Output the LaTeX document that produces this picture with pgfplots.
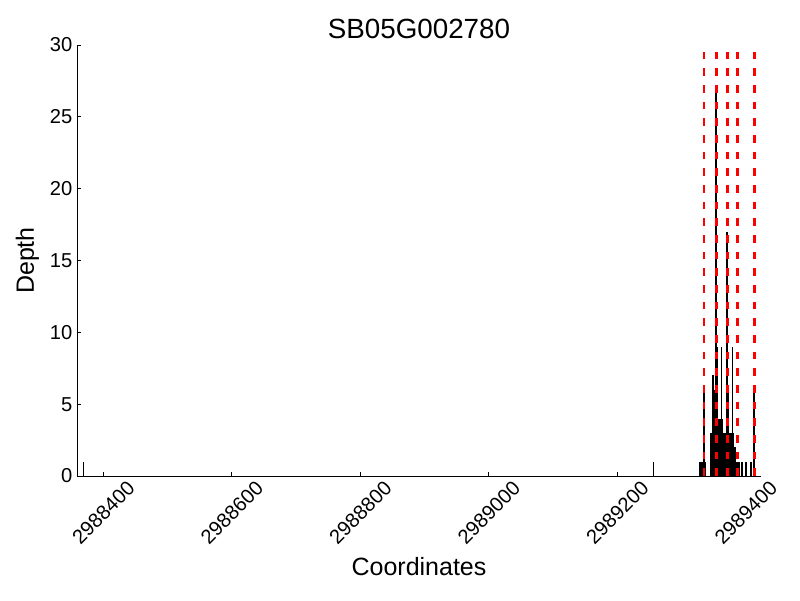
\documentclass[border=0pt]{standalone}
\usepackage{fontspec}
\setmainfont{Liberation Sans}
\usepackage{pgfplots}
\pgfplotsset{compat=1.18}

% depth per coordinate
\pgfplotstableread{
x depth
2988369 1
2989256 1
2989329 1
2989330 1
2989331 1
2989332 1
2989333 1
2989334 1
2989335 6
2989336 1
2989346 3
2989347 3
2989349 7
2989350 6
2989351 5
2989352 4
2989353 4
2989354 27
2989355 4
2989356 9
2989357 4
2989358 4
2989359 4
2989360 3
2989361 4
2989362 9
2989363 4
2989364 3
2989365 2
2989366 2
2989367 1
2989368 3
2989369 3
2989370 4
2989371 17
2989372 6
2989373 5
2989374 3
2989375 3
2989376 3
2989377 3
2989378 3
2989379 9
2989380 3
2989381 3
2989382 2
2989383 2
2989384 2
2989385 1
2989386 1
2989387 1
2989389 1
2989393 1
2989394 1
2989400 1
2989407 1
2989408 1
2989413 6
}\depthtable

\begin{document}
\begin{tikzpicture}
\path[use as bounding box] (-55.66pt,-89.28pt) rectangle (520.34pt,342.72pt);
\begin{axis}[
  at={(0,0)}, anchor=south west,
  scale only axis,
  width=492pt, height=310.3pt,
  xmin=2988359.5, xmax=2989423,
  ymin=0, ymax=30,
  axis x line*=bottom, axis y line*=left,
  axis line style={-, line width=0.6pt},
  tick align=inside,
  major tick length=3pt,
  tick style={black, line width=0.6pt},
  xtick={2988400,2988600,2988800,2989000,2989200,2989400},
  ytick={0,5,10,15,20,25,30},
  scaled x ticks=false,
  /pgf/number format/fixed,
  /pgf/number format/precision=0,
  /pgf/number format/1000 sep={},
  /pgf/number format/assume math mode=true,
  xticklabel style={font=\fontsize{14.5}{17}\selectfont, yshift=-26.5pt, rotate=45, anchor=center},
  yticklabel style={font=\fontsize{14.5}{17}\selectfont},
  title={SB05G002780},
  title style={font=\fontsize{20}{24}\selectfont, at={(axis description cs:0.5,1.0371)}, anchor=center, yshift=-6pt},
  xlabel={Coordinates},
  xlabel style={font=\fontsize{18}{22}\selectfont, at={(axis description cs:0.5,-0.2111)}, anchor=center},
  ylabel={Depth},
  ylabel style={font=\fontsize{18}{22}\selectfont, at={(axis description cs:-0.0729,0.5)}, anchor=center},
  clip=false,
]
\addplot[ycomb, black, line width=1.2pt, mark=none] table[x=x, y=depth] {\depthtable};
\addplot[ycomb, red, line width=2pt, mark=none, dash pattern=on 5.5pt off 6.5pt] coordinates {
  (2989335,29.7) (2989354,29.7) (2989371,29.7) (2989387,29.7) (2989413,29.7)
};
\end{axis}
\end{tikzpicture}
\end{document}
